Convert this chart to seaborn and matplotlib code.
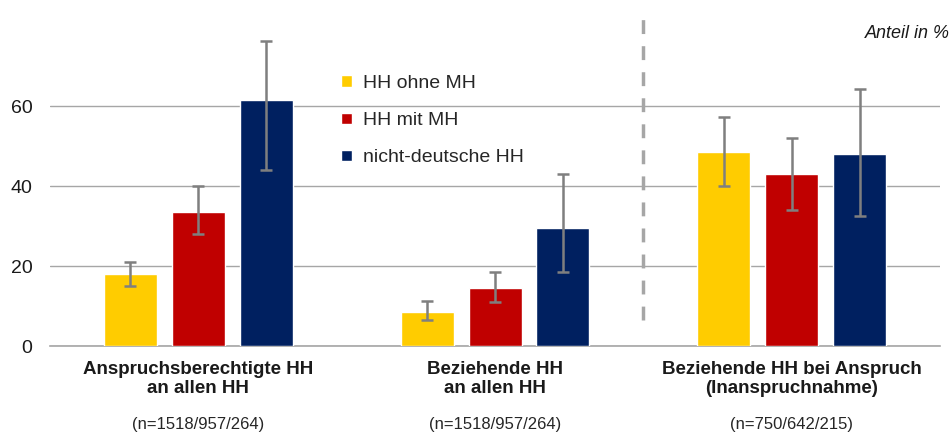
import matplotlib
matplotlib.use("Agg")
import matplotlib.pyplot as plt
import numpy as np
import pandas as pd
import seaborn as sns

# values (Anteil in %)
groups = ["Anspruchsberechtigte HH\nan allen HH",
          "Beziehende HH\nan allen HH",
          "Beziehende HH bei Anspruch\n(Inanspruchnahme)"]
n_labels = ["(n=1518/957/264)", "(n=1518/957/264)", "(n=750/642/215)"]
series = ["HH ohne MH", "HH mit MH", "nicht-deutsche HH"]
colors = ["#FFCC00", "#C00000", "#002060"]

ohne_mh = [18.0, 8.5, 48.5]
mit_mh = [33.5, 14.5, 43.0]
nicht_dt = [61.5, 29.5, 48.0]

ohne_mh_lo = [15.0, 6.5, 40.0]
ohne_mh_hi = [21.0, 11.2, 57.2]
mit_mh_lo = [28.0, 11.0, 34.0]
mit_mh_hi = [40.0, 18.5, 52.0]
nicht_dt_lo = [44.0, 18.5, 32.5]
nicht_dt_hi = [76.2, 43.0, 64.2]

values = [ohne_mh, mit_mh, nicht_dt]
lows = [ohne_mh_lo, mit_mh_lo, nicht_dt_lo]
highs = [ohne_mh_hi, mit_mh_hi, nicht_dt_hi]

rows = []
for s, vals, lo, hi in zip(series, values, lows, highs):
    for g, v, l, h in zip(groups, vals, lo, hi):
        rows.append({"gruppe": g, "serie": s, "wert": v, "lo": l, "hi": h})
df = pd.DataFrame(rows)

sns.set_style("white")
plt.rcParams["font.family"] = ["Liberation Sans", "DejaVu Sans"]

fig = plt.figure(figsize=(9.52, 4.37), dpi=100)
ax = fig.add_axes([0.0525, 0.208, 0.935, 0.769])

sns.barplot(data=df, x="gruppe", y="wert", hue="serie", palette=colors,
            order=groups, hue_order=series, errorbar=None, saturation=1,
            width=0.687, gap=0.22, ax=ax, zorder=3)

# error bars at bar centres
for i, s in enumerate(series):
    sub = df[df["serie"] == s].set_index("gruppe").loc[groups]
    bars = ax.containers[i]
    xs = [b.get_x() + b.get_width() / 2 for b in bars]
    yerr = np.array([sub["wert"] - sub["lo"], sub["hi"] - sub["wert"]])
    ax.errorbar(xs, sub["wert"], yerr=yerr, fmt="none", ecolor="#7F7F7F",
                elinewidth=1.8, capsize=4.5, capthick=1.8, zorder=4)

ax.set_xlim(-0.5, 2.5)
ax.set_ylim(0, 84)
ax.set_yticks([0, 20, 40, 60])
ax.yaxis.grid(True, color="#A6A6A6", linewidth=1)
ax.set_axisbelow(True)
for side in ["top", "right", "left"]:
    ax.spines[side].set_visible(False)
ax.spines["bottom"].set_color("#A6A6A6")
ax.spines["bottom"].set_linewidth(1.2)
ax.tick_params(axis="both", length=0)
ax.tick_params(axis="y", labelsize=14, pad=12.5, labelcolor="#1A1A1A")
ax.tick_params(axis="x", pad=11)
ax.set_xticks(range(len(groups)))
ax.set_xticklabels(groups, fontsize=13.5, fontweight="bold", color="#1A1A1A",
                   linespacing=1.1)
ax.set_xlabel("")
ax.set_ylabel("")

for i, lab in enumerate(n_labels):
    ax.text(i, -0.234, lab, transform=ax.get_xaxis_transform(),
            ha="center", va="center", fontsize=12, color="#262626")

# dashed separator
ax.plot([1.5, 1.5], [6.5, 84], ls=(0, (4, 3.5)), color="#A6A6A6", lw=2.5,
        zorder=2, clip_on=False)

fig.text(0.998, 0.924, "Anteil in %", ha="right", va="center", fontsize=13,
         style="italic", color="#1A1A1A")

handles, labels = ax.get_legend_handles_labels()
ax.legend(handles, labels, loc="upper left", bbox_to_anchor=(0.316, 0.835),
          frameon=False, fontsize=14, handlelength=0.55, handleheight=0.55,
          handletextpad=0.6, labelspacing=1.03, borderpad=0)

fig.savefig("out.png", dpi=100)
